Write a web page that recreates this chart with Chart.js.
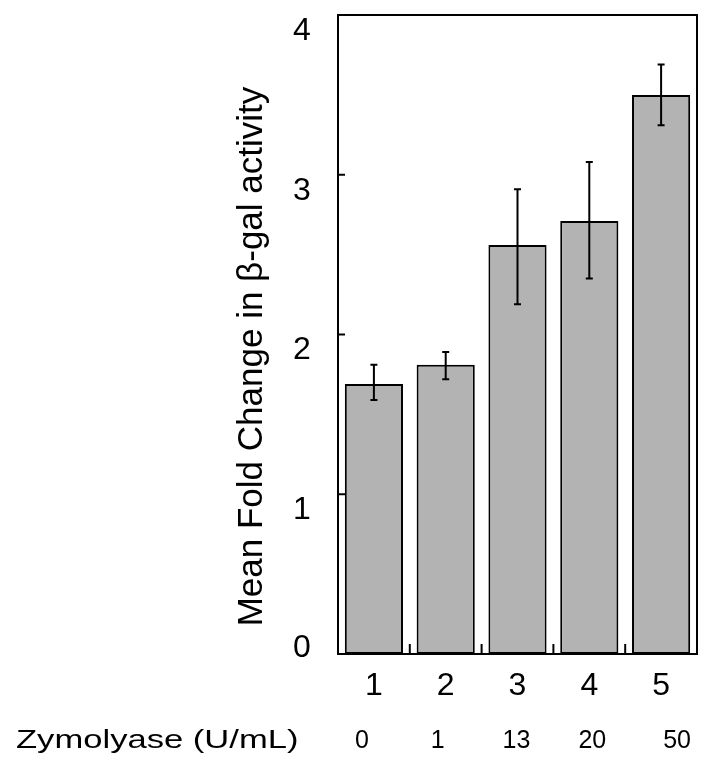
<!DOCTYPE html>
<html>
<head>
<meta charset="utf-8">
<script src="https://cdn.jsdelivr.net/npm/chart.js@4"></script>
<style>
    html, body { margin: 0; padding: 0; background: #fff; }
    #wrap { width: 714px; height: 778px; }
</style>
</head>
<body>
<div id="wrap"><canvas id="chart"></canvas></div>
<script>
const categories = ['1', '2', '3', '4', '5']
const doses = ['0', '1', '13', '20', '50']
const meanFold = [1.69, 1.81, 2.56, 2.71, 3.50]
const errLow = [1.59, 1.72, 2.19, 2.35, 3.31]
const errHigh = [1.81, 1.89, 2.91, 3.08, 3.69]
const yTicks = [0, 1, 2, 3, 4]

const yTitle = 'Mean Fold Change in \u03b2-gal activity'
const xTitle = 'Zymolyase (U/mL)'

const fontFamily = '"Liberation Sans", Arial, sans-serif'

const decorPlugin = {
    id: 'decor',
    afterDatasetsDraw(chart) {
        const ctx = chart.ctx
        const area = chart.chartArea
        const x = chart.scales.x
        const y = chart.scales.y
        const meta = chart.getDatasetMeta(0)

        ctx.save()
        ctx.strokeStyle = '#000'
        ctx.lineWidth = 2

        // error bars
        meta.data.forEach((bar, i) => {
            const top = y.getPixelForValue(errHigh[i])
            const bottom = y.getPixelForValue(errLow[i])
            ctx.beginPath()
            ctx.moveTo(bar.x, top)
            ctx.lineTo(bar.x, bottom)
            ctx.moveTo(bar.x - 3.5, top)
            ctx.lineTo(bar.x + 3.5, top)
            ctx.moveTo(bar.x - 3.5, bottom)
            ctx.lineTo(bar.x + 3.5, bottom)
            ctx.stroke()
        })

        // box round the plot
        ctx.strokeRect(area.left, area.top, area.right - area.left, area.bottom - area.top)

        // inward ticks on y
        yTicks.slice(1, -1).forEach(v => {
            const py = y.getPixelForValue(v)
            ctx.beginPath()
            ctx.moveTo(area.left, py)
            ctx.lineTo(area.left + 7, py)
            ctx.stroke()
        })

        // inward ticks between categories on x
        for (let i = 0; i < categories.length - 1; i++) {
            const px = (x.getPixelForValue(i) + x.getPixelForValue(i + 1)) / 2
            ctx.beginPath()
            ctx.moveTo(px, area.bottom)
            ctx.lineTo(px, area.bottom - 10)
            ctx.stroke()
        }

        // y tick labels
        ctx.fillStyle = '#000'
        ctx.font = '32px ' + fontFamily
        ctx.textAlign = 'center'
        ctx.textBaseline = 'middle'
        yTicks.forEach(v => {
            const py = y.getPixelForValue(v) + (v === 0 ? -6 : 16)
            ctx.fillText(String(v), 302, py)
        })

        // y title
        ctx.save()
        ctx.translate(262, (area.top + area.bottom) / 2 + 22)
        ctx.rotate(-Math.PI / 2)
        ctx.font = '35px ' + fontFamily
        ctx.textBaseline = 'alphabetic'
        ctx.fillText(yTitle, 0, 0)
        ctx.restore()

        // dose row
        ctx.font = '25px ' + fontFamily
        const doseShift = [-12, -8, -1, 3, 16]
        doses.forEach((d, i) => {
            ctx.fillText(d, x.getPixelForValue(i) + doseShift[i], 741)
        })

        ctx.save()
        ctx.translate(16, 741)
        ctx.scale(1.33, 1)
        ctx.font = '26px ' + fontFamily
        ctx.textAlign = 'left'
        ctx.fillText(xTitle, 0, 0)
        ctx.restore()

        ctx.restore()
    }
}

new Chart(document.querySelector('#chart'), {
    type: 'bar',
    data: {
        labels: categories,
        datasets: [{
            data: meanFold,
            backgroundColor: '#b3b3b3',
            borderColor: '#000',
            borderWidth: 2,
            borderSkipped: false,
            barPercentage: 0.81,
            categoryPercentage: 1
        }]
    },
    options: {
        responsive: true,
        maintainAspectRatio: false,
        animation: false,
        layout: { padding: { top: 15, right: 17, left: 0, bottom: 0 } },
        plugins: {
            legend: { display: false },
            tooltip: { enabled: false }
        },
        scales: {
            x: {
                grid: { display: false },
                border: { display: false },
                ticks: {
                    color: '#000',
                    padding: 5,
                    font: { family: fontFamily, size: 32 }
                },
                afterFit: scale => { scale.height = 124 }
            },
            y: {
                min: 0,
                max: 4,
                grid: { display: false },
                border: { display: false },
                ticks: { display: false, stepSize: 1 },
                afterFit: scale => { scale.width = 338 }
            }
        }
    },
    plugins: [decorPlugin]
})
</script>
</body>
</html>
